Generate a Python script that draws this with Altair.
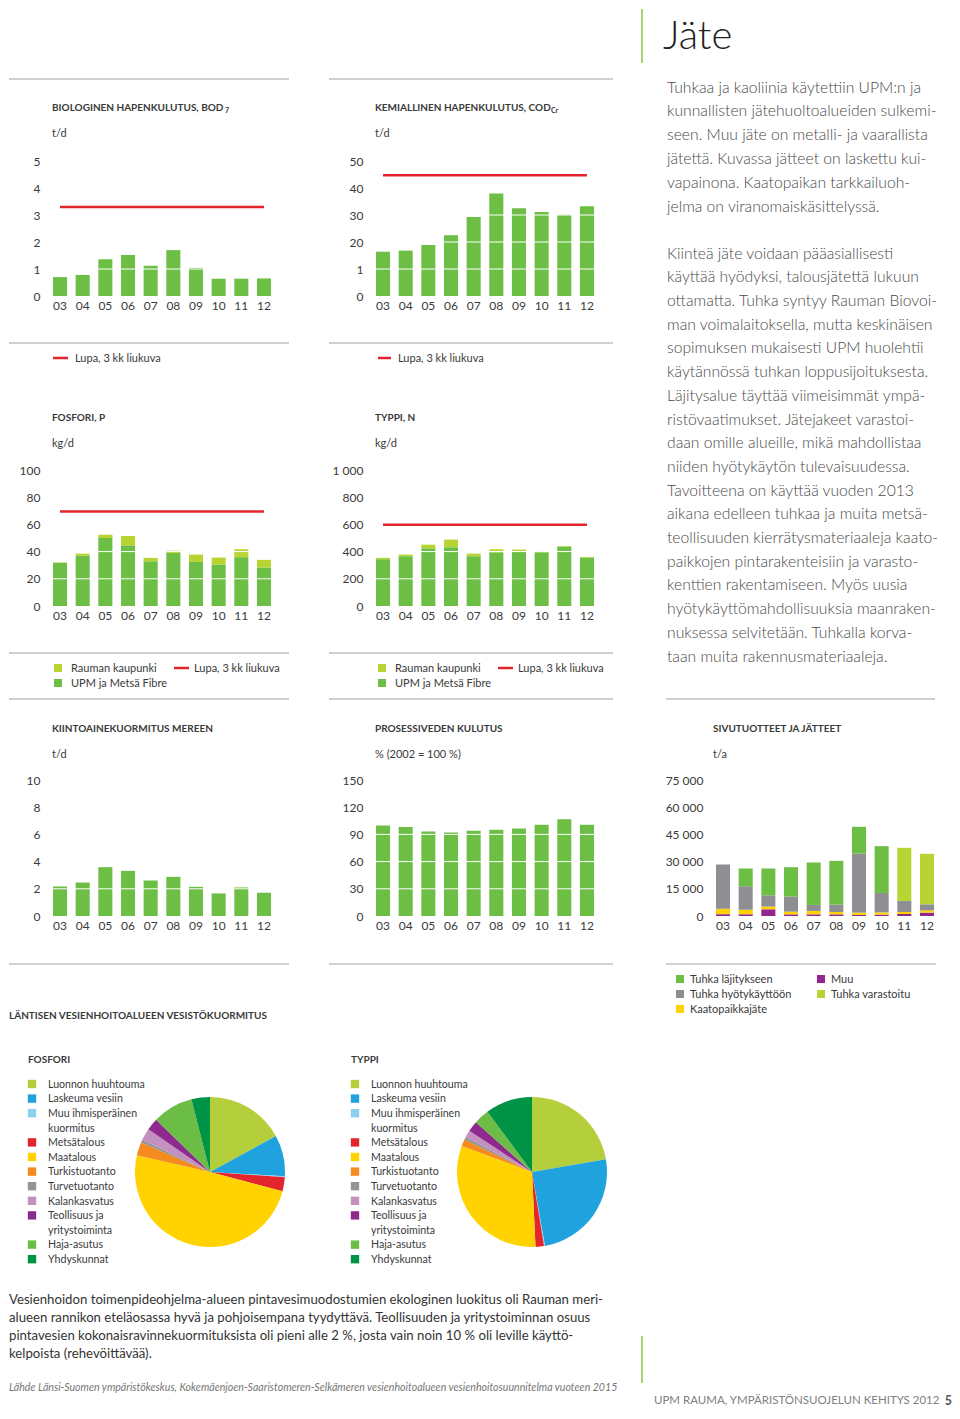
import altair as alt
import pandas as pd

FONT = "Lato"
GREEN = "#6cbe45"
LGREEN = "#b7d433"
GREY = "#8e8f92"
YELLOW = "#ffd200"
PURPLE = "#93278f"
RED = "#e3232c"
LINE = "#a3a3a3"
TXT = "#3a3a3a"

# ---------------- data ----------------
years = ["03", "04", "05", "06", "07", "08", "09", "10", "11", "12"]

bod_values = [0.70, 0.78, 1.36, 1.52, 1.12, 1.70, 1.04, 0.64, 0.64, 0.65]
bod_lupa = 3.3
cod_values = [16.4, 16.8, 18.9, 22.5, 29.3, 38.0, 32.5, 31.1, 30.1, 33.2]
cod_lupa = 44.7
p_upm = [31.7, 37.1, 50.0, 44.6, 32.9, 39.0, 32.4, 30.5, 35.9, 28.3]
p_rauma = [0.3, 1.4, 2.4, 6.9, 2.5, 1.7, 5.4, 5.1, 5.8, 5.6]
p_lupa = 69.5
n_upm = [344, 366, 424, 432, 366, 395, 400, 395, 437, 356]
n_rauma = [10, 12, 27, 56, 19, 22, 15, 7, 4, 5]
n_lupa = 598
kiinto_values = [2.17, 2.46, 3.59, 3.32, 2.61, 2.88, 2.15, 1.66, 2.10, 1.71]
vesi_values = [99.9, 98.1, 93.3, 92.2, 94.0, 95.1, 96.6, 100.6, 106.8, 100.6]
sv_muu = [1000, 1000, 3700, 900, 900, 900, 550, 740, 1100, 1850]
sv_kaato = [3000, 2500, 1500, 1500, 1900, 1300, 1300, 1260, 1100, 1250]
sv_hyoty = [24400, 12900, 6200, 8300, 3300, 4100, 32650, 10700, 6100, 3350]
sv_lajitys = [0, 9800, 14800, 16200, 23400, 24100, 14700, 25800, 0, 0]
sv_varast = [0, 0, 0, 0, 0, 0, 0, 0, 29300, 27850]

sv_names = ["Muu", "Kaatopaikkajäte", "Tuhka hyötykäyttöön", "Tuhka läjitykseen", "Tuhka varastoitu"]
sv_colors = [PURPLE, YELLOW, GREY, GREEN, LGREEN]
np_names = ["UPM ja Metsä Fibre", "Rauman kaupunki"]
np_colors = [GREEN, LGREEN]

pie_labels = ["Luonnon huuhtouma", "Laskeuma vesiin", "Muu ihmisperäinen\nkuormitus", "Metsätalous",
              "Maatalous", "Turkistuotanto", "Turvetuotanto", "Kalankasvatus",
              "Teollisuus ja\nyritystoiminta", "Haja-asutus", "Yhdyskunnat"]
pie_colors = ["#b5cf3c", "#1fa2dd", "#8fd0f2", "#e3262d", "#ffd200", "#f58a1f",
              "#929497", "#c490c0", "#8e2a8e", "#6cbd45", "#009245"]
fosfori_share = [17.1, 8.9, 0.2, 3.0, 49.6, 2.9, 0.6, 2.6, 2.6, 8.8, 4.0]
typpi_share = [22.2, 24.9, 0.2, 1.8, 31.3, 1.5, 0.6, 1.5, 2.3, 3.3, 10.1]

lupa_label = "Lupa, 3 kk liukuva"

para1 = ["Tuhkaa ja kaoliinia käytettiin UPM:n ja",
         "kunnallisten jätehuoltoalueiden sulkemi-",
         "seen. Muu jäte on metalli- ja vaarallista",
         "jätettä. Kuvassa jätteet on laskettu kui-",
         "vapainona. Kaatopaikan tarkkailuoh-",
         "jelma on viranomaiskäsittelyssä."]
para2 = ["Kiinteä jäte voidaan pääasiallisesti",
         "käyttää hyödyksi, talousjätettä lukuun",
         "ottamatta. Tuhka syntyy Rauman Biovoi-",
         "man voimalaitoksella, mutta keskinäisen",
         "sopimuksen mukaisesti UPM huolehtii",
         "käytännössä tuhkan loppusijoituksesta.",
         "Läjitysalue täyttää viimeisimmät ympä-",
         "ristövaatimukset. Jätejakeet varastoi-",
         "daan omille alueille, mikä mahdollistaa",
         "niiden hyötykäytön tulevaisuudessa.",
         "Tavoitteena on käyttää vuoden 2013",
         "aikana edelleen tuhkaa ja muita metsä-",
         "teollisuuden kierrätysmateriaaleja kaato-",
         "paikkojen pintarakenteisiin ja varasto-",
         "kenttien rakentamiseen. Myös uusia",
         "hyötykäyttömahdollisuuksia maanraken-",
         "nuksessa selvitetään. Tuhkalla korva-",
         "taan muita rakennusmateriaaleja."]
bottom_para = ["Vesienhoidon toimenpideohjelma-alueen pintavesimuodostumien ekologinen luokitus oli Rauman meri-",
               "alueen rannikon eteläosassa hyvä ja pohjoisempana tyydyttävä. Teollisuuden ja yritystoiminnan osuus",
               "pintavesien kokonaisravinnekuormituksista oli pieni alle 2 %, josta vain noin 10 % oli leville käyttö-",
               "kelpoista (rehevöittävää)."]
source_text = "Lähde Länsi-Suomen ympäristökeskus, Kokemäenjoen-Saaristomeren-Selkämeren vesienhoitoalueen vesienhoitosuunnitelma vuoteen 2015"
footer_text = "UPM RAUMA, YMPÄRISTÖNSUOJELUN KEHITYS 2012"

# ---------------- layout ----------------
ONE = pd.DataFrame({"k": [0]})
COLX = [52, 375, 715]
ROWY = [160, 469, 779, 1089]
W = [218, 235, 218]
H = [135, 136, 136, 164]
PO = [0, 0.3755, 0]


def org(cell):
    return COLX[cell[1]], ROWY[cell[0]]


def T(cell, rx, ryc, text, size=11, weight="normal", color=TXT, style="normal", align="left", lh=None):
    ox, oy = org(cell)
    kw = dict(text=text, fontSize=size, fontWeight=weight, color=color, font=FONT,
              align=align, baseline="alphabetic", fontStyle=style)
    if lh:
        kw["lineHeight"] = lh
    return alt.Chart(ONE).mark_text(**kw).encode(x=alt.value(rx - ox), y=alt.value(ryc + 0.36 * size - oy))


def HL(cell, rx1, rx2, ry, color=LINE, w=1):
    ox, oy = org(cell)
    return alt.Chart(ONE).mark_rule(color=color, strokeWidth=w).encode(
        x=alt.value(rx1 - ox), x2=alt.value(rx2 - ox), y=alt.value(ry - oy))


def VL(cell, rx, ry1, ry2, color=LINE, w=1):
    ox, oy = org(cell)
    return alt.Chart(ONE).mark_rule(color=color, strokeWidth=w).encode(
        x=alt.value(rx - ox), y=alt.value(ry1 - oy), y2=alt.value(ry2 - oy))


def SQ(cell, rx, ry, color, size=64):
    ox, oy = org(cell)
    return alt.Chart(ONE).mark_square(size=size, color=color, opacity=1).encode(
        x=alt.value(rx - ox), y=alt.value(ry - oy))


def DASH(cell, rx1, rx2, ry):
    return HL(cell, rx1, rx2, ry, RED, 2.5)


def simple_df(vals):
    return pd.DataFrame({"year": years, "value": vals, "series": "main", "ord": 0})


def stacked_df(names, series):
    rows = []
    for i, (name, vals) in enumerate(zip(names, series)):
        for y, v in zip(years, vals):
            rows.append({"year": y, "value": v, "series": name, "ord": i})
    return pd.DataFrame(rows)


def xenc(field, po):
    ax = alt.Axis(title=None, labelAngle=0, domain=False, ticks=False, labelPadding=4,
                  labelFontSize=12, labelColor=TXT, labelFont=FONT)
    return alt.X(f"{field}:N", sort=years,
                 scale=alt.Scale(paddingInner=0.38, paddingOuter=po, align=0), axis=ax, title=None)


def yscale(ymax):
    return alt.Scale(domain=[0, ymax], nice=False, zero=True)


SPACE_EXPR = "replace(format(datum.value, ','), ',', ' ')"


def bar_panel(cell, df, ymax, ticks, grid, cdomain, crange, lupa=None, expr=None, extra=()):
    po = PO[cell[1]]
    axkw = dict(values=ticks, title=None, domain=False, ticks=False, grid=False, labelPadding=13,
                labelFontSize=12, labelColor=TXT, labelFont=FONT, labelOverlap=False)
    if expr:
        axkw["labelExpr"] = expr

    def yenc(field, stack=None):
        kw = dict(scale=yscale(ymax), axis=alt.Axis(**axkw), title=None)
        if stack:
            kw["stack"] = stack
        return alt.Y(f"{field}:Q", **kw)

    bars = alt.Chart(df).mark_bar().encode(
        x=xenc("year", po),
        y=yenc("value", "zero"),
        color=alt.Color("series:N", scale=alt.Scale(domain=cdomain, range=crange), legend=None),
        order=alt.Order("ord:Q"),
    )
    layers = [bars]
    if grid:
        layers.append(alt.Chart(pd.DataFrame({"value": grid})).mark_rule(color="white", strokeWidth=1).encode(
            y=yenc("value")))
    if lupa is not None:
        ldf = pd.DataFrame({"year": [years[0], years[-1]], "value": [lupa, lupa]})
        layers.append(alt.Chart(ldf).mark_line(color=RED, strokeWidth=2.5).encode(
            x=xenc("year", po), y=yenc("value")))
    layers += list(extra)
    return alt.layer(*layers).properties(width=W[cell[1]], height=H[cell[0]])


def pie_cell(cell, shares, cx, cy, heading, hx, sqx, tx, extra=()):
    ox, oy = org(cell)
    cats = [l.replace("\n", " ") for l in pie_labels]
    rows = []
    r = 0
    for i, (lab, c) in enumerate(zip(pie_labels, cats)):
        yc = 1083 + r * 14.6
        rows.append({"cat": c, "label": lab, "share": shares[i], "ord": i,
                     "ly": yc - oy, "lyb": yc + 3.8 - oy})
        r += lab.count("\n") + 1
    df = pd.DataFrame(rows)
    cscale = alt.Scale(domain=cats, range=pie_colors)
    arc = alt.Chart(df).mark_arc(outerRadius=75).encode(
        theta=alt.Theta("share:Q", stack=True),
        color=alt.Color("cat:N", scale=cscale, legend=None),
        order=alt.Order("ord:Q"),
        x=alt.value(cx - ox), y=alt.value(cy - oy))
    sq = alt.Chart(df).mark_square(size=70, opacity=1).encode(
        x=alt.value(sqx - ox), y=alt.Y("ly:Q", scale=None),
        color=alt.Color("cat:N", scale=cscale, legend=None))
    tx_layer = alt.Chart(df).mark_text(align="left", baseline="alphabetic", fontSize=10.6, font=FONT,
                                       color=TXT, lineBreak="\n", lineHeight=14.6).encode(
        x=alt.value(tx - ox), y=alt.Y("lyb:Q", scale=None), text="label:N")
    head = T(cell, hx, 1058, heading, 10, "bold")
    return alt.layer(arc, sq, tx_layer, head, *extra).properties(width=W[cell[1]], height=H[cell[0]])


# ---------------- cells ----------------
c = (0, 0)
bod = bar_panel(c, simple_df(bod_values), 5, [0, 1, 2, 3, 4, 5], [1, 2, 3, 4], ["main"], [GREEN],
                lupa=bod_lupa, extra=[
                    HL(c, 8, 288, 78), T(c, 51, 106, "BIOLOGINEN HAPENKULUTUS, BOD", 10, "bold"),
                    T(c, 224, 109, "7", 7, "bold"), T(c, 51, 132, "t/d", 11),
                    HL(c, 8, 288, 342), DASH(c, 52, 67, 357), T(c, 74, 357, lupa_label, 11)])

c = (0, 1)
cod = bar_panel(c, simple_df(cod_values), 50, [0, 10, 20, 30, 40, 50], [10, 20, 30, 40], ["main"], [GREEN],
                lupa=cod_lupa, expr="datum.value == 10 ? '1' : datum.label", extra=[
                    HL(c, 328, 612, 78), T(c, 374, 106, "KEMIALLINEN HAPENKULUTUS, COD", 10, "bold"),
                    T(c, 550, 109, "Cr", 7, "bold"), T(c, 374, 132, "t/d", 11),
                    HL(c, 328, 612, 342), DASH(c, 377, 390, 357), T(c, 397, 357, lupa_label, 11)])

c = (0, 2)
textcell = alt.layer(
    VL(c, 641, 8, 62, "#8cc63f", 1.5),
    T(c, 662, 33.2, "Jäte", 40, 300, "#222"),
    T(c, 666, 86, para1, 15.7, 300, "#4a4a4a", lh=23.8),
    T(c, 666, 252, para2, 15.7, 300, "#4a4a4a", lh=23.7),
    HL(c, 665, 934, 698),
).properties(width=W[2], height=H[0])

c = (1, 0)
fos = bar_panel(c, stacked_df(np_names, [p_upm, p_rauma]), 100, [0, 20, 40, 60, 80, 100], [20, 40, 60, 80],
                np_names, np_colors, lupa=p_lupa, extra=[
                    T(c, 51, 416, "FOSFORI, P", 10, "bold"), T(c, 51, 442, "kg/d", 11),
                    HL(c, 8, 288, 652),
                    SQ(c, 57, 667, LGREEN), T(c, 70, 667, "Rauman kaupunki", 11),
                    SQ(c, 57, 682, GREEN), T(c, 70, 682, "UPM ja Metsä Fibre", 11),
                    DASH(c, 173, 188, 667), T(c, 193, 667, lupa_label, 11),
                    HL(c, 8, 288, 698)])

c = (1, 1)
typ = bar_panel(c, stacked_df(np_names, [n_upm, n_rauma]), 1000, [0, 200, 400, 600, 800, 1000], [200, 400, 800],
                np_names, np_colors, lupa=n_lupa, expr=SPACE_EXPR, extra=[
                    T(c, 374, 416, "TYPPI, N", 10, "bold"), T(c, 374, 442, "kg/d", 11),
                    HL(c, 328, 612, 652),
                    SQ(c, 381, 667, LGREEN), T(c, 394, 667, "Rauman kaupunki", 11),
                    SQ(c, 381, 682, GREEN), T(c, 394, 682, "UPM ja Metsä Fibre", 11),
                    DASH(c, 497, 512, 667), T(c, 517, 667, lupa_label, 11),
                    HL(c, 328, 612, 698)])

c = (1, 2)
empty = alt.Chart(ONE).mark_text(text=" ").encode(x=alt.value(0), y=alt.value(0)).properties(
    width=W[2], height=H[1])

c = (2, 0)
kii = bar_panel(c, simple_df(kiinto_values), 10, [0, 2, 4, 6, 8, 10], [2, 4, 6, 8], ["main"], [GREEN], extra=[
    T(c, 51, 727, "KIINTOAINEKUORMITUS MEREEN", 10, "bold"), T(c, 51, 753, "t/d", 11),
    HL(c, 8, 288, 963)])

c = (2, 1)
ves = bar_panel(c, simple_df(vesi_values), 150, [0, 30, 60, 90, 120, 150], [30, 60, 90], ["main"], [GREEN],
                extra=[T(c, 374, 727, "PROSESSIVEDEN KULUTUS", 10, "bold"),
                       T(c, 374, 753, "% (2002 = 100 %)", 11), HL(c, 328, 612, 963)])

c = (2, 2)
siv = bar_panel(c, stacked_df(sv_names, [sv_muu, sv_kaato, sv_hyoty, sv_lajitys, sv_varast]), 75000,
                [0, 15000, 30000, 45000, 60000, 75000], None, sv_names, sv_colors, expr=SPACE_EXPR, extra=[
                    T(c, 712, 727, "SIVUTUOTTEET JA JÄTTEET", 10, "bold"), T(c, 712, 753, "t/a", 11),
                    HL(c, 665, 935, 963),
                    SQ(c, 679, 978, GREEN), T(c, 689, 978, "Tuhka läjitykseen", 11),
                    SQ(c, 679, 993, GREY), T(c, 689, 993, "Tuhka hyötykäyttöön", 11),
                    SQ(c, 679, 1008, YELLOW), T(c, 689, 1008, "Kaatopaikkajäte", 11),
                    SQ(c, 820, 978, PURPLE), T(c, 830, 978, "Muu", 11),
                    SQ(c, 820, 993, LGREEN), T(c, 830, 993, "Tuhka varastoitu", 11)])

c = (3, 0)
pie_f = pie_cell(c, fosfori_share, 209, 1171, "FOSFORI", 27, 31, 47, extra=[
    T(c, 8, 1014, "LÄNTISEN VESIENHOITOALUEEN VESISTÖKUORMITUS", 10, "bold"),
    T(c, 8, 1298, bottom_para, 13.2, "normal", "#333", lh=18),
    T(c, 8, 1386, source_text, 10.6, "normal", "#777", style="italic")])

c = (3, 1)
pie_t = pie_cell(c, typpi_share, 531, 1171, "TYPPI", 350, 354, 370)

c = (3, 2)
foot = alt.layer(
    VL(c, 641, 1335, 1382, "#8cc63f", 1.5),
    T(c, 653, 1399, footer_text, 11.5, "normal", "#808080"),
    T(c, 951, 1399, "5", 12.5, "bold", "#555", align="right"),
).properties(width=W[2], height=H[3])

chart = alt.concat(
    bod, cod, textcell,
    fos, typ, empty,
    kii, ves, siv,
    pie_f, pie_t, foot,
    columns=3, spacing={"row": 174, "column": 105}, bounds="flush", align="each",
).resolve_scale(color="independent").properties(padding=0, background="white").configure_view(stroke=None)

chart.save("out.html", embed_options={"renderer": "svg", "actions": False})
